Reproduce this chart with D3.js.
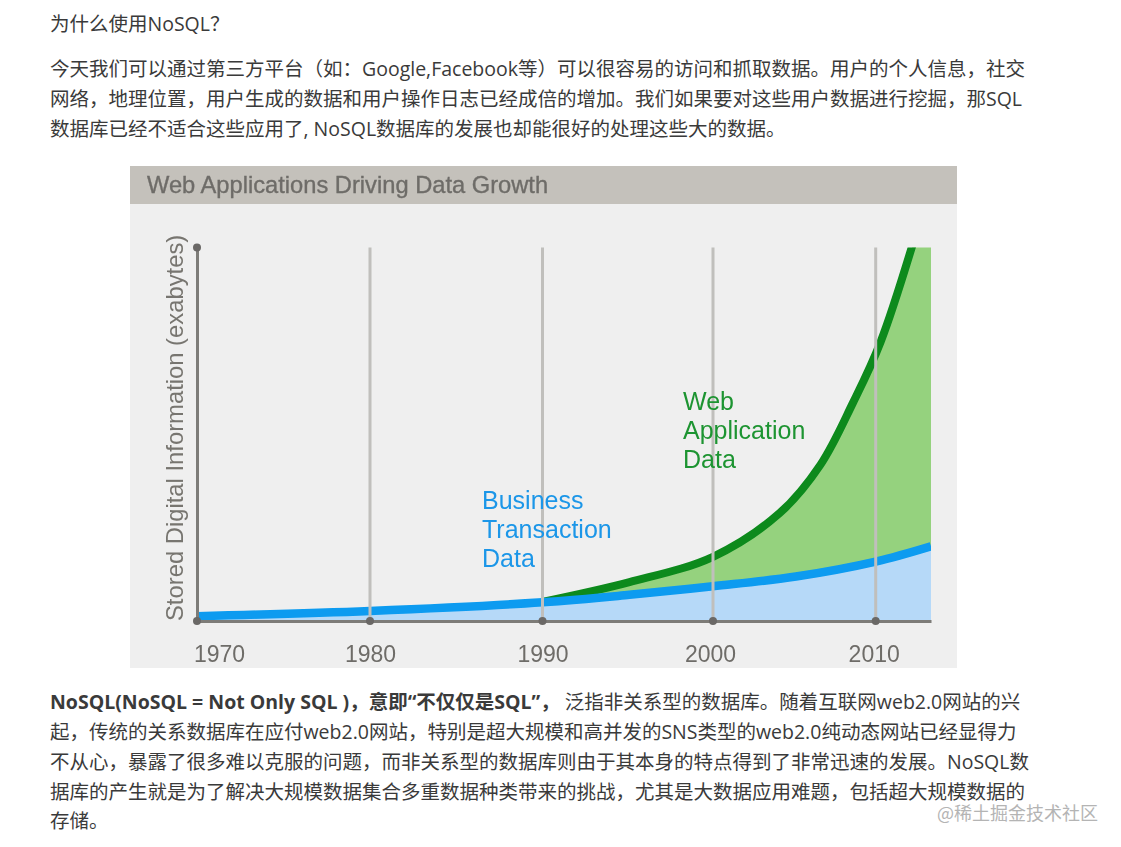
<!DOCTYPE html>
<html>
<head>
<meta charset="utf-8">
<script src="https://cdn.jsdelivr.net/npm/d3@7"></script>
<style>
  html, body { margin: 0; padding: 0; background: #fff; overflow: hidden; }
  svg { display: block; }
  .body-text { font-family: 'Open Sans', 'Noto Sans CJK SC', sans-serif; font-size: 19.5px; fill: #3a3a3a; }
  .chart-text { font-family: 'Liberation Sans', Arial, sans-serif; }
</style>
</head>
<body>
<div id="page"></div>
<script>
// chart data (y is a share of the axis height)
const tickYears = [1970, 1980, 1990, 2000, 2010];
const tickLabels = ['1970', '1980', '1990', '2000', '2010'];
const businessYears = [1970, 1980, 1990, 1995.1, 2000, 2005.1, 2010, 2013.4];
const businessValues = [1.3, 2.7, 5.0, 7.0, 9.3, 11.9, 15.9, 20.0];
const webYears = [1990, 1995.1, 2000, 2004.1, 2006.6, 2008.6, 2010.3, 2012.7];
const webValues = [5.1, 10.4, 17.2, 28.9, 41.8, 58.4, 74.7, 107];

const titleText = 'Web Applications Driving Data Growth';
const yLabelText = 'Stored Digital Information (exabytes)';
const businessLabel = ['Business', 'Transaction', 'Data'];
const webLabel = ['Web', 'Application', 'Data'];

// surrounding article text
const introLines = [
  '为什么使用NoSQL？'
];
const paraLines = [
  '今天我们可以通过第三方平台（如：Google,Facebook等）可以很容易的访问和抓取数据。用户的个人信息，社交',
  '网络，地理位置，用户生成的数据和用户操作日志已经成倍的增加。我们如果要对这些用户数据进行挖掘，那SQL',
  '数据库已经不适合这些应用了, NoSQL数据库的发展也却能很好的处理这些大的数据。'
];
const boldLead = 'NoSQL(NoSQL = Not Only SQL )，意即“不仅仅是SQL”，';
const leadRest = ' 泛指非关系型的数据库。随着互联网web2.0网站的兴';
const footLines = [
  '起，传统的关系数据库在应付web2.0网站，特别是超大规模和高并发的SNS类型的web2.0纯动态网站已经显得力',
  '不从心，暴露了很多难以克服的问题，而非关系型的数据库则由于其本身的特点得到了非常迅速的发展。NoSQL数',
  '据库的产生就是为了解决大规模数据集合多重数据种类带来的挑战，尤其是大数据应用难题，包括超大规模数据的',
  '存储。'
];
const watermark = '@稀土掘金技术社区';

const svg = d3.select('#page').append('svg')
  .attr('width', 1121)
  .attr('height', 847);

// article text
const addLine = (text, y) => svg.append('text')
  .attr('class', 'body-text')
  .attr('x', 50)
  .attr('y', y)
  .text(text);

introLines.forEach(t => addLine(t, 31));
paraLines.forEach((t, i) => addLine(t, 76 + i * 30));

const lead = svg.append('text').attr('class', 'body-text').attr('x', 50).attr('y', 709);
lead.append('tspan').attr('font-weight', 700).text(boldLead);
lead.append('tspan').attr('xml:space', 'preserve').text(leadRest);
footLines.forEach((t, i) => addLine(t, 739 + i * 29.8));

svg.append('text')
  .attr('x', 937)
  .attr('y', 820)
  .style('font-family', "'Noto Sans CJK SC', sans-serif")
  .style('font-size', '18px')
  .style('fill', '#b4b4b4')
  .text(watermark);

// chart panel
const defs = svg.append('defs');
defs.append('filter').attr('id', 'soft')
  .attr('x', '-2%').attr('y', '-2%').attr('width', '104%').attr('height', '104%')
  .append('feGaussianBlur').attr('stdDeviation', 0.55);

const chart = svg.append('g').attr('filter', 'url(#soft)');

chart.append('rect').attr('x', 130).attr('y', 166).attr('width', 827).attr('height', 502).attr('fill', '#efefef');
chart.append('rect').attr('x', 130).attr('y', 166).attr('width', 827).attr('height', 38).attr('fill', '#c4c1bb');

chart.append('text')
  .attr('class', 'chart-text')
  .attr('x', 147)
  .attr('y', 193)
  .style('font-size', '23.7px')
  .style('fill', '#6e6c68')
  .style('stroke', '#6e6c68')
  .style('stroke-width', 0.35)
  .text(titleText);

// the picture's decades are not evenly spaced, so the scale is piecewise
const x = d3.scaleLinear()
  .domain([1970, 1980, 1990, 2000, 2010, 2013.4])
  .range([197, 370, 542.5, 713, 875.7, 931]);
const y = d3.scaleLinear()
  .domain([0, 100])
  .range([621, 247.5]);

defs.append('clipPath').attr('id', 'plot')
  .append('rect')
  .attr('x', x(1970))
  .attr('y', y(100))
  .attr('width', x(2013.4) - x(1970))
  .attr('height', y(0) - y(100));

const business = businessYears.map((d, i) => ({ year: d, value: businessValues[i] }));
const web = webYears.map((d, i) => ({ year: d, value: webValues[i] }));
const webFill = web.concat([{ year: 2013.4, value: 120 }]);

const curve = d3.curveCatmullRom.alpha(0.5);
const line = d3.line()
  .x(d => x(d.year))
  .y(d => y(d.value))
  .curve(curve);
const area = d3.area()
  .x(d => x(d.year))
  .y0(y(0))
  .y1(d => y(d.value))
  .curve(curve);

const plot = chart.append('g').attr('clip-path', 'url(#plot)');

plot.append('path').datum(webFill).attr('d', area).attr('fill', '#95d27e');
plot.append('path').datum(web).attr('d', line).attr('fill', 'none').attr('stroke', '#0b8a1c').attr('stroke-width', 8);
plot.append('path').datum(business).attr('d', area).attr('fill', '#b6d9f8');
plot.append('path').datum(business).attr('d', line).attr('fill', 'none').attr('stroke', '#0a9bf0').attr('stroke-width', 8.5);

// decade grid lines sit on top of the areas
chart.append('g')
  .selectAll('line')
  .data(tickYears.slice(1))
  .enter()
  .append('line')
  .attr('x1', d => x(d))
  .attr('x2', d => x(d))
  .attr('y1', y(100))
  .attr('y2', y(0))
  .attr('stroke', '#c0bfbc')
  .attr('stroke-width', 3);

// axes
const labelShift = { 1970: 22, 2000: -3, 2010: -2 };
const xAxis = d3.axisBottom(x)
  .tickValues(tickYears)
  .tickFormat((d, i) => tickLabels[i])
  .tickSize(0)
  .tickSizeOuter(0)
  .tickPadding(25);
const xAxisG = chart.append('g')
  .attr('class', 'chart-text')
  .attr('transform', `translate(0,${y(0)})`)
  .call(xAxis);
xAxisG.select('.domain').attr('stroke', '#7d7b78').attr('stroke-width', 3);
xAxisG.selectAll('text')
  .attr('dx', d => labelShift[d] || 0)
  .style('font-size', '23px')
  .style('font-family', "'Liberation Sans', Arial, sans-serif")
  .style('fill', '#6e6c68');

const yAxisG = chart.append('g')
  .attr('transform', `translate(${x(1970)},0)`)
  .call(d3.axisLeft(y).tickValues([]).tickSizeOuter(0));
yAxisG.select('.domain').attr('stroke', '#7d7b78').attr('stroke-width', 3);

chart.append('g')
  .selectAll('circle')
  .data(tickYears)
  .enter()
  .append('circle')
  .attr('cx', d => x(d))
  .attr('cy', y(0))
  .attr('r', 4)
  .attr('fill', '#6a6866');
chart.append('circle').attr('cx', x(1970)).attr('cy', y(100)).attr('r', 4).attr('fill', '#6a6866');

chart.append('text')
  .attr('class', 'chart-text')
  .attr('transform', 'translate(183,621) rotate(-90)')
  .style('font-size', '23.8px')
  .style('fill', '#77756f')
  .text(yLabelText);

const addLabel = (lines, lx, ly, color) => lines.forEach((t, i) => {
  chart.append('text')
    .attr('class', 'chart-text')
    .attr('x', lx)
    .attr('y', ly + i * 29)
    .style('font-size', '25px')
    .style('fill', color)
    .text(t);
});
addLabel(businessLabel, 482, 509, '#1a96e8');
addLabel(webLabel, 683, 410, '#1f9431');
</script>
</body>
</html>
